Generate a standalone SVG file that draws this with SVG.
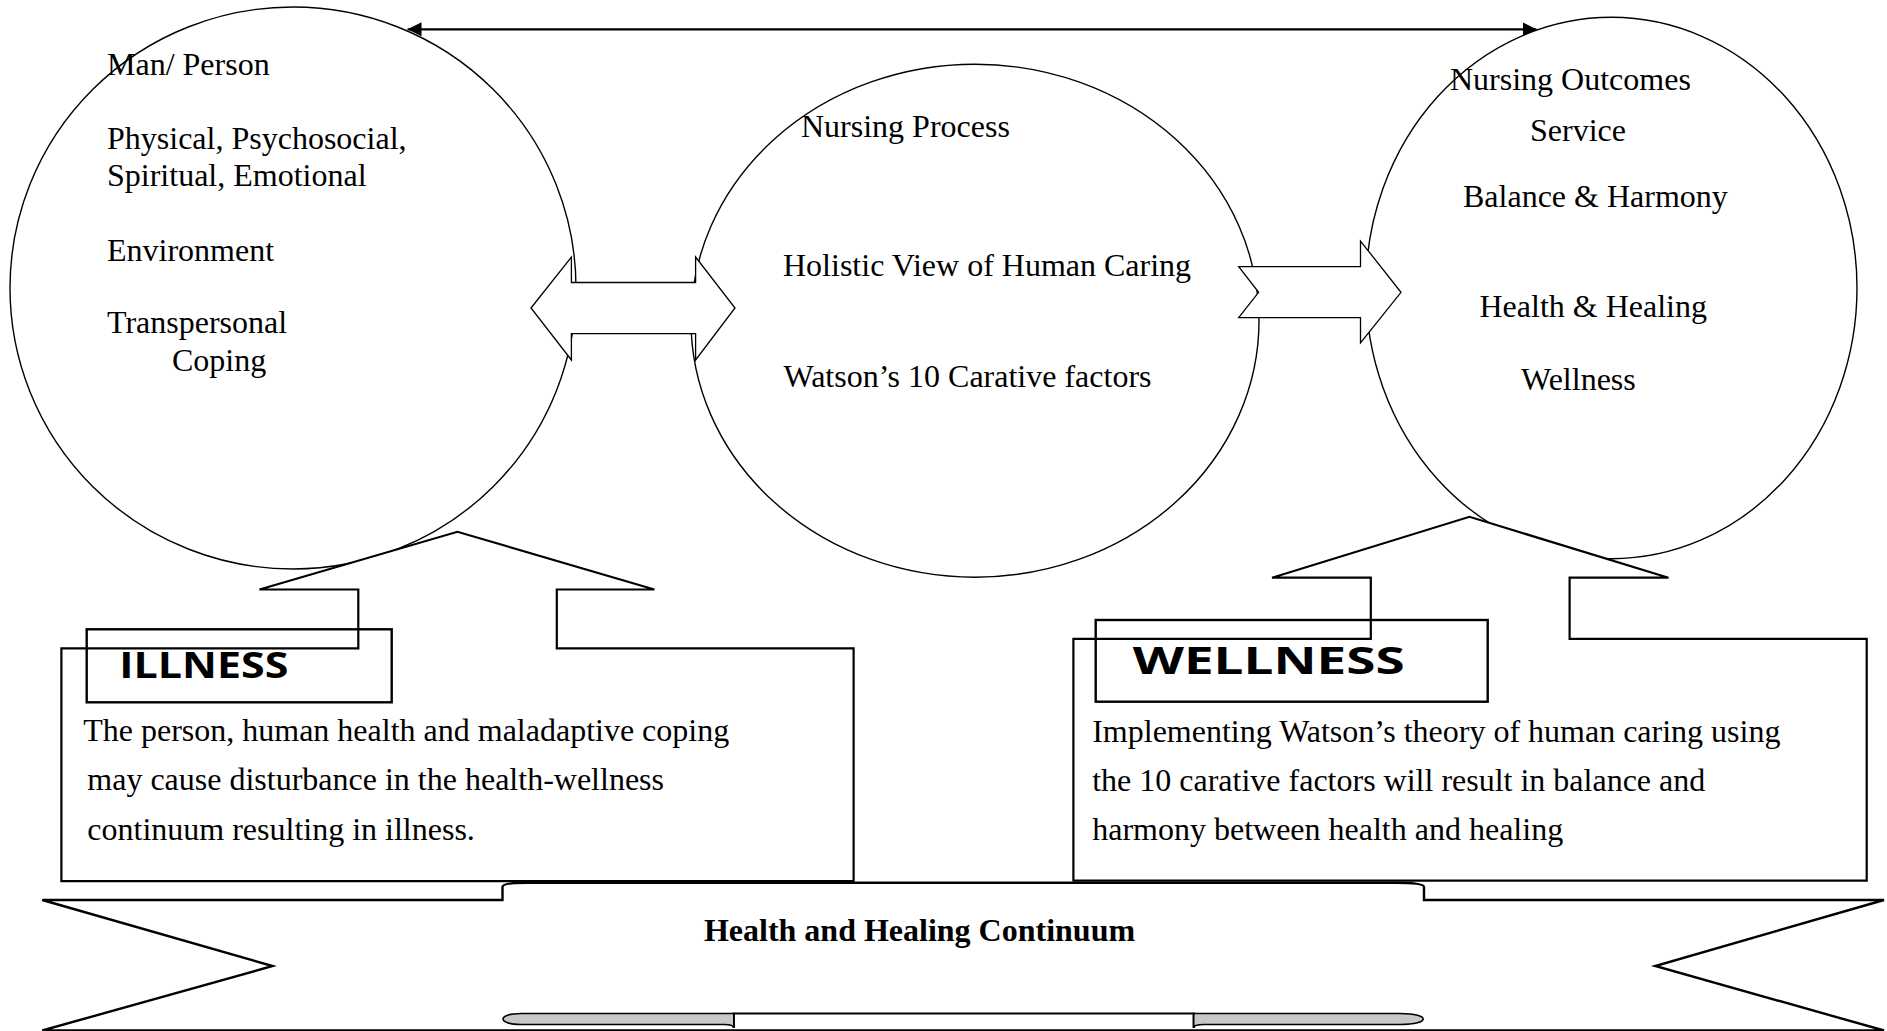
<svg xmlns="http://www.w3.org/2000/svg" width="1887" height="1031" viewBox="0 0 1887 1031">
<defs>
<style>
.bg{fill:#ffffff}
.circ{fill:#ffffff;stroke:#000;stroke-width:1.4}
.blk{fill:#ffffff;stroke:#000;stroke-width:1.3;stroke-linejoin:miter}
.call{fill:#ffffff;stroke:#000;stroke-width:2.2;stroke-linejoin:miter}
.lbl{fill:none;stroke:#000;stroke-width:2.4}
.t{font-family:"Liberation Serif","Times New Roman",serif;font-size:32px;fill:#000}
.tb{font-family:"Liberation Serif","Times New Roman",serif;font-size:32px;font-weight:bold;fill:#000}
.hd{font-family:"Open Sans","DejaVu Sans",sans-serif;font-weight:bold;fill:#000}
.rib{fill:#ffffff;stroke:#000;stroke-width:2.4;stroke-linejoin:miter}
.fold{fill:#c8c8c8;stroke:#000;stroke-width:1.6}
</style>
<marker id="ah" viewBox="0 0 14 14" refX="14" refY="7" markerWidth="14" markerHeight="14" markerUnits="userSpaceOnUse" orient="auto-start-reverse">
<path d="M0,0 L14,7 L0,14 Z" fill="#000"/>
</marker>
</defs>
<rect class="bg" x="0" y="0" width="1887" height="1031"/>

<g id="person">
<ellipse class="circ" cx="293" cy="288" rx="283" ry="281"/>
<text class="t" x="107" y="75">Man/ Person</text>
<text class="t" x="107" y="148.5">Physical, Psychosocial,</text>
<text class="t" x="107" y="186">Spiritual, Emotional</text>
<text class="t" x="107" y="261">Environment</text>
<text class="t" x="107" y="333">Transpersonal</text>
<text class="t" x="172" y="370.5">Coping</text>
</g>

<g id="nursing-process">
<ellipse class="circ" cx="975" cy="320.7" rx="284" ry="256.5"/>
<text class="t" x="801" y="136.6">Nursing Process</text>
<text class="t" x="783" y="276">Holistic View of Human Caring</text>
<text class="t" x="783.5" y="387">Watson’s 10 Carative factors</text>
</g>

<g id="nursing-outcomes">
<ellipse class="circ" cx="1611.4" cy="288" rx="245.6" ry="270.7"/>
<text class="t" x="1450" y="90">Nursing Outcomes</text>
<text class="t" x="1530" y="141">Service</text>
<text class="t" x="1463" y="206.7">Balance &amp; Harmony</text>
<text class="t" x="1479.5" y="317">Health &amp; Healing</text>
<text class="t" x="1521" y="390">Wellness</text>
</g>

<g id="connectors">
<line x1="407.5" y1="29.3" x2="1536.5" y2="29.3" stroke="#000" stroke-width="2.2" marker-start="url(#ah)" marker-end="url(#ah)"/>
<polygon class="blk" points="531,308 571.4,257 571.4,282.5 695.6,282.5 695.6,257 735,308 695.6,360 695.6,333.7 571.4,333.7 571.4,360"/>
<polygon class="blk" points="1238.7,266.7 1360.5,266.7 1360.5,241 1401,292.3 1360.5,343 1360.5,317.6 1238.7,317.6 1258.6,292.3"/>
</g>

<g id="illness">
<polygon class="call" points="61.4,648.3 358.3,648.3 358.3,589.5 259.5,589.5 457.4,531.8 654.4,589.5 556.8,589.5 556.8,648.3 853.6,648.3 853.6,881.2 61.4,881.2"/>
<rect class="lbl" x="86.7" y="629.3" width="305" height="73"/>
<text class="hd" x="119.3" y="678.3" font-size="35" textLength="169" lengthAdjust="spacingAndGlyphs">ILLNESS</text>
<text class="t" x="83.2" y="741">The person, human health and maladaptive coping</text>
<text class="t" x="87.3" y="789.5">may cause disturbance in the health-wellness</text>
<text class="t" x="87.3" y="839.6">continuum resulting in illness.</text>
</g>

<g id="wellness">
<polygon class="call" points="1073.4,638.9 1370.8,638.9 1370.8,577.7 1272,577.7 1469.5,516.8 1668.5,577.7 1569.6,577.7 1569.6,638.9 1866.7,638.9 1866.7,880.6 1073.4,880.6"/>
<rect class="lbl" x="1095.7" y="620" width="392" height="81.7"/>
<text class="hd" x="1132.7" y="674" font-size="38" textLength="272" lengthAdjust="spacingAndGlyphs">WELLNESS</text>
<text class="t" x="1092.2" y="741.8">Implementing Watson’s theory of human caring using</text>
<text class="t" x="1092.2" y="790.8">the 10 carative factors will result in balance and</text>
<text class="t" x="1092.2" y="840.2">harmony between health and healing</text>
</g>

<g id="continuum">
<path class="rib" d="M42.3,900 H502.5 V887 C502.5,884 511,882.7 527,882.7 H1396 C1413,882.7 1424,884 1424,887 V900 H1884 L1655.3,966 L1884,1030.5 H42.3 L272.6,966 Z"/>
<path d="M733.8,1028 V1013.5 H1193.7 V1028" fill="none" stroke="#000" stroke-width="2.2"/>
<path class="fold" d="M733.8,1013.5 H521 C497,1013.5 497,1024.5 521,1024.5 H724 C731,1024.5 733.8,1026 733.8,1028 Z"/>
<path class="fold" d="M1193.7,1013.5 H1400 C1431,1013.5 1431,1024.5 1400,1024.5 H1204 C1197,1024.5 1193.7,1026 1193.7,1028 Z"/>
<text class="tb" x="919.5" y="941" text-anchor="middle">Health and Healing Continuum</text>
</g>
</svg>
